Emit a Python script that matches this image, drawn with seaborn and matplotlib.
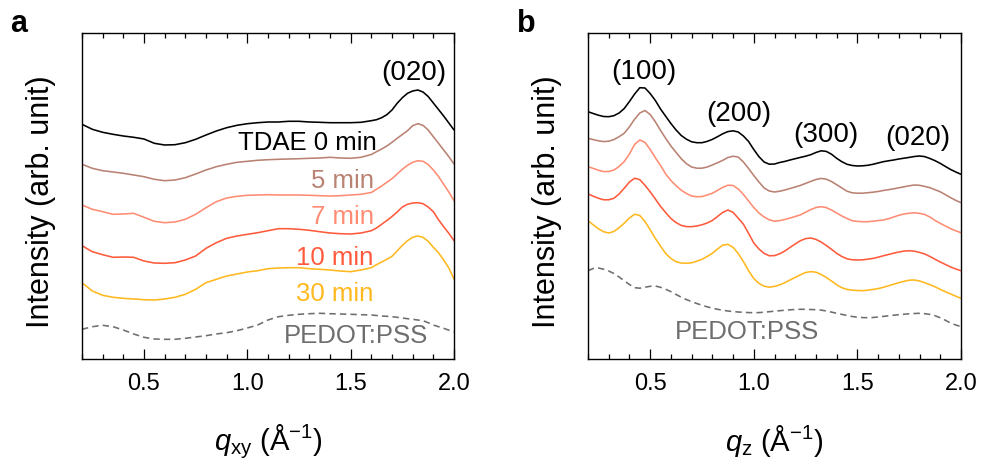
import numpy as np
import pandas as pd
import matplotlib
matplotlib.use("Agg")
import matplotlib.pyplot as plt
from matplotlib.ticker import MultipleLocator, FixedLocator
import seaborn as sns

# ---------------- data (intensity in arb. units, curves already stacked) ----------------
samples = ["TDAE 0 min", "5 min", "7 min", "10 min", "30 min", "PEDOT:PSS"]
colors = ["#000000", "#b98273", "#ff8c73", "#ff5a3c", "#ffb81e", "#6e6e6e"]

# panel a: in-plane profiles
q_xy = [0.2, 0.25, 0.3, 0.35, 0.4, 0.45, 0.5, 0.55, 0.6, 0.65, 0.7, 0.75, 0.8, 0.85, 0.9,
        0.95, 1.0, 1.05, 1.1, 1.15, 1.2, 1.25, 1.3, 1.35, 1.4, 1.45, 1.5, 1.55, 1.6,
        1.625, 1.65, 1.675, 1.7, 1.725, 1.75, 1.775, 1.8, 1.825, 1.85, 1.875, 1.9, 1.925,
        1.95, 1.975, 2.0]
a_0min = [250.7, 245.7, 242.7, 240.7, 239, 237.7, 236, 231.7, 230, 230.3, 232.3, 235.7, 240, 244,
          247.3, 249.7, 251.3, 252.3, 253, 253, 253.7, 253.7, 253, 252.7, 252.3, 252.3, 252.3,
          252.7, 254.3,
          255.3, 257.3, 260.3, 265, 271.7, 277.3, 281.7, 284, 285, 283, 278.5, 272, 265.5, 259,
          252, 245]
a_5min = [210.7, 206.7, 204.3, 203, 201.7, 200, 198.3, 195.7, 194.3, 195, 197.3, 201, 205, 208.3,
          210.7, 212.7, 213.7, 214.7, 215.3, 215.7, 216, 216.3, 216.7, 217, 217.7, 217, 216.7,
          217.7, 220.5,
          223.3, 226, 229, 232.7, 236.7, 240.5, 244.3, 249.3, 251.3, 249.7, 245, 238.3, 231.7,
          225, 218.3, 211]
a_7min = [170, 165.7, 163.3, 160.7, 161, 161.7, 157.7, 153.7, 152.3, 153, 155.7, 160.7, 167.3,
          173.3, 177, 178.7, 179.7, 180, 180.3, 180, 180, 180, 179.7, 179.3, 179, 179.3, 180,
          180.7, 182.5,
          185.7, 189, 192.7, 196.3, 201, 205.7, 209.7, 212.7, 214.3, 213.7, 210.5, 205, 198.5,
          190.7, 183, 174.3]
a_10min = [129.3, 123.3, 120.3, 117.7, 118, 117.7, 114, 112, 111.7, 112.3, 115, 119, 126.7, 132.3,
           136.7, 139, 140.7, 142.3, 144.3, 146.3, 146.3, 145.7, 144.7, 143.3, 142, 141.3, 141,
           142, 144.3,
           147, 150.7, 154.5, 158.5, 163, 168, 170.7, 172, 172.3, 171.3, 168, 163.3, 155.3,
           148.3, 141.7, 134.3]
a_30min = [92.3, 84, 79.7, 77.7, 76.7, 76, 75.3, 75, 76, 77.7, 80.7, 85.7, 92.3, 95.7, 99, 101,
           103, 104.3, 106.3, 107, 107.3, 107.3, 106.3, 105.7, 105, 104, 103.3, 105, 107.3,
           110.3, 113, 115.7, 118.7, 124, 129.7, 134.3, 137.7, 139, 137.7, 133.7, 127.7, 122.3,
           115, 107, 96]
a_pedot = [45.7, 48.3, 49.7, 48.3, 45, 41, 37.7, 36, 35.7, 35.7, 36.7, 38, 39.3, 41, 42.3, 44.3,
           47, 50, 55, 58.3, 59.7, 60.7, 61.3, 61.7, 61.3, 61, 60.7, 60.3, 60,
           59.5, 59, 58.7, 58.3, 57.7, 57, 56.3, 55.7, 55, 54.3, 52.3, 50, 48.3, 46.7, 44.8, 43]

# panel b: out-of-plane profiles
q_z = [0.2, 0.225, 0.25, 0.275, 0.3, 0.325, 0.35, 0.375,
       0.4, 0.425, 0.45, 0.475, 0.5, 0.525, 0.55, 0.575,
       0.6, 0.625, 0.65, 0.675, 0.7, 0.725, 0.75, 0.775,
       0.8, 0.825, 0.85, 0.875, 0.9, 0.925, 0.95, 0.975,
       1.0, 1.025, 1.05, 1.075, 1.1, 1.125, 1.15, 1.175,
       1.2, 1.225, 1.25, 1.275, 1.3, 1.325, 1.35, 1.375,
       1.4, 1.425, 1.45, 1.475, 1.5, 1.525, 1.55, 1.575,
       1.6, 1.625, 1.65, 1.675, 1.7, 1.725, 1.75, 1.775,
       1.8, 1.825, 1.85, 1.875, 1.9, 1.925, 1.95, 1.975,
       2.0]
b_0min = [263.3, 261.5, 259.8, 258.5, 258.3, 259.3, 262, 266.5,
          273.5, 281, 287.3, 287, 281.5, 274.5, 266, 258.7,
          251.5, 245, 239.5, 235.8, 233.2, 232.3, 232.3, 233.6,
          235.6, 238.3, 241.2, 243.4, 244.2, 243, 239, 233.5,
          225.5, 218.3, 213, 210.8, 211, 212.5, 213.6, 215,
          216.3, 217.6, 218.8, 220.3, 222.5, 224.2, 223.6, 220.8,
          216.7, 213.3, 210.7, 209.5, 209, 209.2, 209.7, 210.7,
          212, 213.3, 214.2, 215, 216, 216.8, 217.6, 218.5,
          219, 218.4, 216.5, 214.3, 211.6, 208.5, 205.5, 203,
          200.7]
b_5min = [236.7, 235.4, 234.2, 233.4, 233.8, 235.4, 238.3, 241.8,
          248.2, 255.8, 262, 264.5, 260.5, 253.2, 244.6, 236.6,
          229, 222.6, 216.3, 211.3, 208, 206.8, 206.8, 208,
          210, 212.3, 214.6, 217.5, 218.8, 217.9, 213, 206.5,
          199.5, 193, 187, 184, 183, 183.8, 185, 186.5,
          188, 189.6, 191.6, 193.6, 195.5, 196.6, 195.8, 193.5,
          190.3, 187, 183.8, 182.2, 181.8, 181.8, 182.3, 182.8,
          183.5, 184.5, 185.3, 186.2, 187.2, 188.2, 189.2, 190,
          189.7, 188.6, 187.3, 185.3, 183.2, 180.3, 177.3, 174.6,
          172.3]
b_7min = [208.3, 206.6, 204.8, 203.4, 203.5, 205, 208.5, 213.5,
          221, 230.6, 235, 232.6, 225.5, 217.3, 209.5, 201,
          194.5, 189.3, 184.8, 181.5, 179, 178.3, 178.4, 180,
          181.7, 184.6, 187.6, 189.8, 189.5, 186, 180.6, 174,
          167.5, 162, 158, 155.2, 153.8, 154.4, 155.5, 157,
          158.5, 160.1, 162.8, 165.4, 167.5, 168.3, 167.4, 165,
          162, 159, 156.5, 154.3, 153.6, 153.3, 153.3, 153.8,
          154.4, 155, 156.3, 158, 159.7, 161, 161.8, 162.2,
          161.6, 160.5, 158, 154.5, 151.6, 149, 146.3, 144.2,
          142.3]
b_10min = [181, 178.8, 176.8, 175.2, 175.2, 176.7, 181, 186.8,
           193, 196.8, 195.3, 189.7, 183.2, 176, 168.6, 162.4,
           156.5, 152.4, 149.6, 148.4, 148.3, 149, 150.2, 152,
           154.5, 158.5, 162.6, 165, 162.6, 156.8, 150.8, 141.6,
           132, 126, 121.6, 119.2, 119.4, 121.2, 124, 127.6,
           131, 134.3, 136.4, 137, 135.6, 133, 129.5, 125.7,
           121.7, 118.5, 116.2, 115.2, 115, 115.2, 115.8, 116.6,
           117.8, 119.2, 120.5, 121.8, 123, 123.9, 124.3, 123.8,
           122.6, 121, 118.5, 115.7, 113, 110.5, 108, 106,
           104.3]
b_30min = [154.3, 150.2, 146.3, 143.3, 142, 143.5, 147.3, 151.8,
           157, 160.8, 159.5, 153.5, 145.2, 136.6, 128.8, 121.5,
           116.5, 113.3, 112, 111.7, 112.2, 113.8, 115.7, 118.5,
           121.7, 126, 129.8, 130.7, 127.7, 121.5, 113.4, 104.2,
           96.5, 91.6, 88.8, 87.8, 88.6, 90.2, 92.3, 95,
           97.6, 100.2, 102.5, 103.4, 102.8, 100.6, 97.5, 94,
           90.2, 87.3, 85.6, 84.8, 84.5, 84.3, 84.8, 85.6,
           86.4, 87.7, 89.2, 90.8, 92.3, 93.7, 94.8, 95,
           94, 92.3, 90.3, 88.2, 85.6, 83.2, 81, 78.8,
           76.7]
b_pedot = [104.3, 106.5, 107, 105.8, 104, 101.5, 98, 94.2,
           90.5, 87.3, 86.8, 87.8, 88.7, 89, 87.7, 85.7,
           83.4, 80.5, 77.8, 75.4, 73.4, 71.5, 69.7, 68.2,
           66.8, 65.7, 64.8, 64, 63.4, 63, 62.7, 62.4,
           62.3, 62.4, 62.8, 63.3, 63.8, 64.3, 64.8, 65.2,
           65.5, 65.7, 65.7, 65.5, 65.3, 64.9, 64, 62.9,
           61.7, 60.6, 59.5, 58.5, 57.8, 57.4, 57.3, 57.5,
           58, 58.6, 59.2, 59.8, 60.3, 60.8, 61.2, 61.5,
           61.7, 61.3, 60.6, 59.3, 57.2, 54.7, 51.9, 50,
           48.3]

xtick_values = [0.5, 1.0, 1.5, 2.0]
xtick_labels = ["0.5", "1.0", "1.5", "2.0"]
peaks_a = [("(020)", 1.804, 295)]
peaks_b = [("(100)", 0.470, 296), ("(200)", 0.930, 254), ("(300)", 1.347, 232.5),
           ("(020)", 1.794, 230)]

# ---------------- style ----------------
sns.set_theme(style="ticks")
plt.rcParams["font.family"] = ["Liberation Sans", "DejaVu Sans"]
plt.rcParams["mathtext.fontset"] = "custom"
plt.rcParams["mathtext.rm"] = "Liberation Sans"
plt.rcParams["mathtext.it"] = "Liberation Sans:italic"
for key in ["text.color", "axes.labelcolor", "xtick.color", "ytick.color", "axes.edgecolor"]:
    plt.rcParams[key] = "black"
plt.rcParams["axes.linewidth"] = 1.0

fig = plt.figure(figsize=(9.85, 4.63), dpi=100)
ax_a = fig.add_axes([82 / 985, 104 / 463, 372 / 985, 326 / 463])
ax_b = fig.add_axes([588 / 985, 104 / 463, 373 / 985, 326 / 463])

palette = dict(zip(samples, colors))
dashes = {s: "" for s in samples}
dashes["PEDOT:PSS"] = (4, 2.6)


def draw(ax, q, series):
    df = pd.DataFrame({
        "q": np.concatenate([np.asarray(q, float)] * len(series)),
        "I": np.concatenate([np.asarray(s, float) for s in series]),
        "sample": np.repeat(samples, [len(s) for s in series]),
    })
    sns.lineplot(data=df, x="q", y="I", hue="sample", style="sample", palette=palette,
                 dashes=dashes, linewidth=1.15, legend=False, ax=ax, estimator=None,
                 sort=False)
    ax.set_xlim(0.2, 2.0)
    ax.set_ylim(16, 342)
    ax.xaxis.set_major_locator(FixedLocator(xtick_values))
    ax.set_xticklabels(xtick_labels)
    ax.xaxis.set_minor_locator(MultipleLocator(0.1))
    ax.set_yticks([])
    ax.tick_params(axis="x", which="both", direction="in", top=True, bottom=True,
                   color="black", width=0.9)
    ax.tick_params(axis="x", which="major", length=7, labelsize=17, pad=10,
                   labelcolor="black")
    ax.tick_params(axis="x", which="minor", length=3.3)
    for sp in ax.spines.values():
        sp.set_visible(True)
        sp.set_color("black")
        sp.set_linewidth(1.0)
    ax.set_ylabel("Intensity (arb. unit)", fontsize=22, color="black")
    ax.yaxis.set_label_coords(-0.07, 0.483)


draw(ax_a, q_xy, [a_0min, a_5min, a_7min, a_10min, a_30min, a_pedot])
draw(ax_b, q_z, [b_0min, b_5min, b_7min, b_10min, b_30min, b_pedot])

ax_a.set_xlabel(r"$q_{\mathrm{xy}}$ (Å$^{-1}$)", fontsize=21, labelpad=20, color="black")
ax_b.set_xlabel(r"$q_{\mathrm{z}}$ (Å$^{-1}$)", fontsize=21, labelpad=20, color="black")

# sample labels in panel a
label_pos = [(1.625, 225), (1.612, 186.7), (1.612, 150.7), (1.612, 110), (1.612, 74.3),
             (1.876, 32.3)]
for s, c, (x, y) in zip(samples, colors, label_pos):
    ax_a.text(x, y, s, color=c, fontsize=18.5, ha="right", va="baseline")
ax_b.text(0.62, 35.7, "PEDOT:PSS", color=colors[-1], fontsize=18.5, ha="left", va="baseline")

for t, x, y in peaks_a:
    ax_a.text(x, y, t, fontsize=20, ha="center", va="baseline", color="black")
for t, x, y in peaks_b:
    ax_b.text(x, y, t, fontsize=20, ha="center", va="baseline", color="black")

fig.text(10 / 985, 1 - 32 / 463, "a", fontsize=22, fontweight="bold", ha="left",
         va="baseline", color="black")
fig.text(517 / 985, 1 - 32 / 463, "b", fontsize=22, fontweight="bold", ha="left",
         va="baseline", color="black")

fig.savefig("out.png", dpi=100)
